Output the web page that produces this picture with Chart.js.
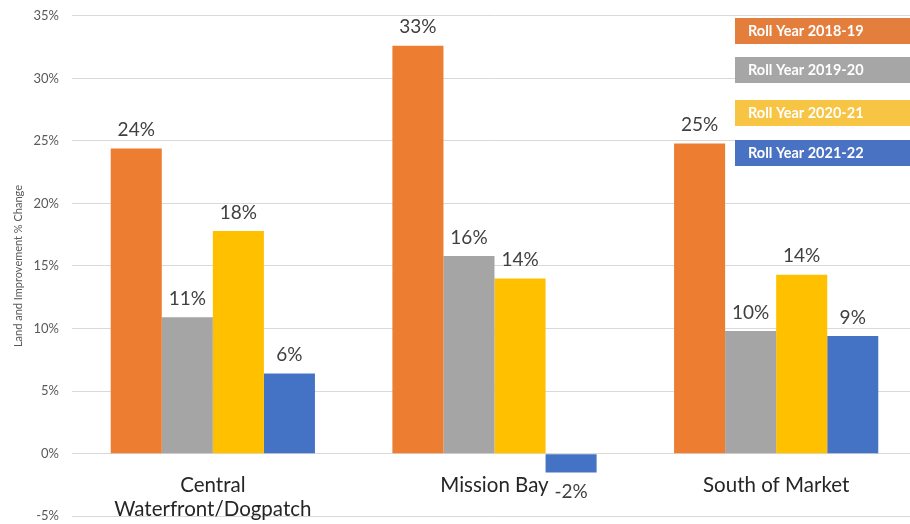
<!DOCTYPE html>
<html><head><meta charset="utf-8">
<script src="https://cdn.jsdelivr.net/npm/chart.js@4.4.1/dist/chart.umd.min.js"></script>
<style>html,body{margin:0;padding:0;background:#fff;overflow:hidden;}#wrap{width:920px;height:542px;position:absolute;left:0;top:-5px;}</style>
</head><body><div id="wrap"><canvas id="c"></canvas></div>
<script>
const categories = [["Central", "Waterfront/Dogpatch"], "Mission Bay", "South of Market"];
const seriesNames = ["Roll Year 2018-19", "Roll Year 2019-20", "Roll Year 2020-21", "Roll Year 2021-22"];
const roll2018 = [24.4, 32.6, 24.8];
const roll2019 = [10.9, 15.8, 9.8];
const roll2020 = [17.8, 14.0, 14.3];
const roll2021 = [6.4, -1.5, 9.4];
const yTicks = [-5, 0, 5, 10, 15, 20, 25, 30, 35];

const barColors = ["#ED7D31", "#A5A5A5", "#FFC000", "#4472C4"];
const legendColors = ["#E47E3D", "#A6A6A6", "#F7C444", "#4A72C2"];
const FONT = "Lato, 'Open Sans', sans-serif";

const labelPlugin = {
  id: "valueLabels",
  afterDatasetsDraw(chart) {
    const ctx = chart.ctx;
    ctx.save();
    ctx.font = "19px " + FONT;
    ctx.fillStyle = "#404040";
    ctx.textAlign = "center";
    chart.data.datasets.forEach((ds, di) => {
      const meta = chart.getDatasetMeta(di);
      meta.data.forEach((bar, i) => {
        const v = ds.data[i];
        const txt = (Math.sign(v) * Math.round(Math.abs(v))) + "%";
        if (v >= 0) {
          ctx.textBaseline = "bottom";
          ctx.fillText(txt, bar.x, bar.y - 9);
        } else {
          ctx.textBaseline = "top";
          ctx.fillText(txt, bar.x, bar.y + 10);
        }
      });
    });
    ctx.restore();
  }
};

const legendPlugin = {
  id: "boxLegend",
  afterDraw(chart) {
    const ctx = chart.ctx;
    const tops = [23, 62, 105, 145];
    ctx.save();
    chart.data.datasets.forEach((ds, i) => {
      ctx.fillStyle = legendColors[i];
      ctx.fillRect(735, tops[i], 185, 26);
      ctx.fillStyle = "#ffffff";
      ctx.font = "bold 14.5px " + FONT;
      ctx.textAlign = "left";
      ctx.textBaseline = "middle";
      ctx.fillText(ds.label, 748, tops[i] + 13);
    });
    ctx.restore();
  }
};

new Chart(document.getElementById("c"), {
  type: "bar",
  data: {
    labels: categories,
    datasets: [roll2018, roll2019, roll2020, roll2021].map((d, i) => ({
      label: seriesNames[i],
      data: d,
      backgroundColor: barColors[i],
      borderWidth: 0,
      barPercentage: 1.0,
      categoryPercentage: 0.725
    }))
  },
  options: {
    responsive: true,
    maintainAspectRatio: false,
    animation: false,
    layout: { padding: { top: 10, bottom: 8, left: 0, right: 3 } },
    plugins: { legend: { display: false }, tooltip: { enabled: false } },
    scales: {
      x: {
        position: { y: 0 },
        grid: { display: false, drawTicks: false, tickLength: 0 },
        border: { display: false },
        ticks: { color: "#262626", font: { family: FONT, size: 20.5 }, padding: 19, maxRotation: 0, autoSkip: false }
      },
      y: {
        min: -5, max: 35,
        afterFit(s) { s.width = 72; },
        afterBuildTicks(s) { s.ticks = yTicks.map(v => ({ value: v })); },
        grid: { color: "#D9D9D9", lineWidth: 1, drawTicks: false },
        border: { display: false },
        ticks: { color: "#595959", font: { family: FONT, size: 13 }, padding: 13, callback: v => v + "%" },
        title: { display: true, text: "Land and Improvement % Change", color: "#595959", font: { family: FONT, size: 11 }, padding: { top: 12, bottom: 4 } }
      }
    }
  },
  plugins: [labelPlugin, legendPlugin]
});
</script></body></html>
